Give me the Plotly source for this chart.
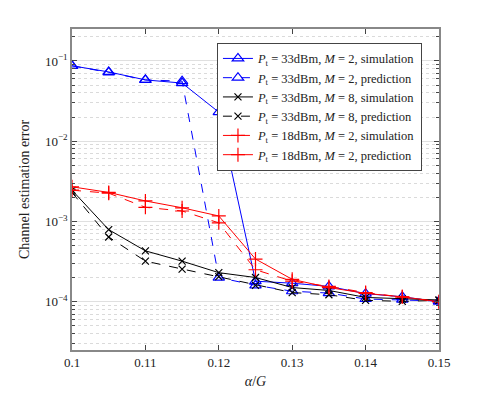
import plotly.graph_objects as go

# alpha / G
x = [0.1, 0.105, 0.11, 0.115, 0.12, 0.125, 0.13, 0.135, 0.14, 0.145, 0.15]

# Pt = 33dBm, M = 2
m2_33_sim = [0.087, 0.073, 0.058, 0.053, 0.023, 1.8e-4, 1.7e-4, 1.55e-4, 1.26e-4, 1.15e-4, 1.0e-4]
m2_33_pred = [0.087, 0.072, 0.058, 0.056, 2.0e-4, 1.6e-4, 1.35e-4, 1.28e-4, 1.08e-4, 1.06e-4, 1.02e-4]
# Pt = 33dBm, M = 8
m8_33_sim = [2.45e-3, 7.9e-4, 4.3e-4, 3.2e-4, 2.3e-4, 2.0e-4, 1.5e-4, 1.38e-4, 1.13e-4, 1.08e-4, 1.05e-4]
m8_33_pred = [2.3e-3, 6.4e-4, 3.2e-4, 2.55e-4, 2.05e-4, 1.6e-4, 1.3e-4, 1.22e-4, 1.04e-4, 1.01e-4, 1.04e-4]
# Pt = 18dBm, M = 2
m2_18_sim = [2.45e-3, 2.25e-3, 1.5e-3, 1.35e-3, 9.6e-4, 2.5e-4, 1.8e-4, 1.55e-4, 1.3e-4, 1.15e-4, 1.0e-4]
m2_18_pred = [2.7e-3, 2.3e-3, 1.8e-3, 1.48e-3, 1.17e-3, 3.4e-4, 1.9e-4, 1.5e-4, 1.27e-4, 1.15e-4, 1.0e-4]

xticks = [0.1, 0.11, 0.12, 0.13, 0.14, 0.15]
yticks = [1e-4, 1e-3, 1e-2, 1e-1]
ytext = ['10<sup>−4</sup>', '10<sup>−3</sup>', '10<sup>−2</sup>', '10<sup>−1</sup>']
yminor = [m * 10.0 ** e for e in range(-5, 0) for m in range(2, 10)]

def lab(p, m, kind):
    return f'<i>P</i><sub>t</sub> = {p}dBm, <i>M</i> = {m}, {kind}'

series = [
    (m2_33_sim, lab(33, 2, 'simulation'), 'blue', 'solid', 'triangle-up-open', 10),
    (m2_33_pred, lab(33, 2, 'prediction'), 'blue', 'dash', 'triangle-up-open', 10),
    (m8_33_sim, lab(33, 8, 'simulation'), 'black', 'solid', 'x-thin-open', 7),
    (m8_33_pred, lab(33, 8, 'prediction'), 'black', 'dash', 'x-thin-open', 7),
    (m2_18_sim, lab(18, 2, 'simulation'), 'red', 'dash', 'cross-thin-open', 10),
    (m2_18_pred, lab(18, 2, 'prediction'), 'red', 'solid', 'cross-thin-open', 10),
]

fig = go.Figure()
for y, name, col, dash, sym, sz in series:
    fig.add_trace(go.Scatter(x=x, y=y, name=name, mode='lines+markers',
                             line=dict(color=col, width=1, dash=dash),
                             marker=dict(symbol=sym, size=sz, color=col,
                                         line=dict(color=col, width=1.2))))

# page body adds 8px, so the figure is a bit smaller than the window
fig.update_layout(
    width=477, height=385,
    margin=dict(l=64, r=46, t=21, b=43),
    plot_bgcolor='white', paper_bgcolor='white',
    font=dict(family='Liberation Serif, DejaVu Serif, serif', size=12, color='#222'),
    legend=dict(x=0.395, y=0.957, xanchor='left', yanchor='top',
                bgcolor='white', bordercolor='#444', borderwidth=1,
                font=dict(size=12.5), tracegroupgap=0, itemwidth=30),
    showlegend=True,
)
fig.update_xaxes(range=[0.1, 0.15], tickvals=xticks, ticktext=[f'{v:g}' for v in xticks],
                 ticks='inside', ticklen=5, tickcolor='#444', showgrid=False,
                 showline=True, linecolor='#888', linewidth=1.5, mirror='ticks',
                 zeroline=False, automargin=False,
                 title=dict(text='<i>α</i>/<i>G</i>', standoff=7, font=dict(size=14)),
                 tickfont=dict(size=13))
fig.update_yaxes(type='log', range=[-4.602, -0.602], tickvals=yticks, ticktext=ytext,
                 ticks='inside', ticklen=5, tickcolor='#444',
                 showgrid=True, gridcolor='#e0e0e0', gridwidth=1,
                 showline=True, linecolor='#888', linewidth=1.5, mirror='ticks',
                 zeroline=False, automargin=False, tickfont=dict(size=13),
                 title=dict(text='Channel estimation error', standoff=12, font=dict(size=14)),
                 minor=dict(tickvals=yminor, ticks='inside', ticklen=3, tickcolor='#444',
                            showgrid=True, gridcolor='#dadada', griddash='dot', gridwidth=1))

fig.write_html('out.html')
